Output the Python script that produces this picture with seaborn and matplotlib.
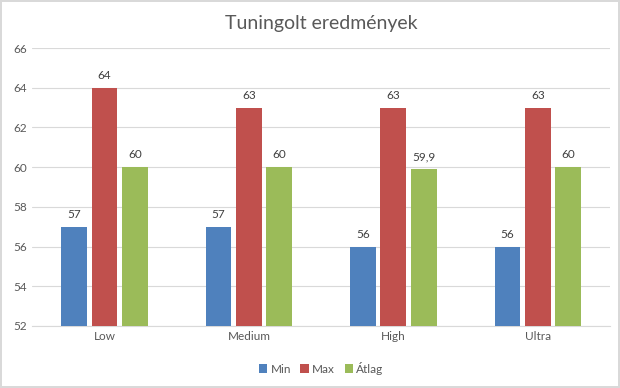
import seaborn as sns
import matplotlib.pyplot as plt
import pandas as pd

categories = ['Low', 'Medium', 'High', 'Ultra']
series = ['Min', 'Max', 'Átlag']
min_values = [57, 57, 56, 56]
max_values = [64, 63, 63, 63]
avg_values = [60, 60, 59.9, 60]
colors = ['#4F81BD', '#C0504D', '#9BBB59']

rows = []
for name, vals in zip(series, [min_values, max_values, avg_values]):
    for cat, v in zip(categories, vals):
        rows.append({'cat': cat, 'series': name, 'value': v})
df = pd.DataFrame(rows)

sns.set_style('white')
plt.rcParams['font.family'] = ['Lato', 'DejaVu Sans']
txt = '#595959'

fig = plt.figure(figsize=(6.2, 3.88), dpi=100)
fig.patch.set_edgecolor('#d9d9d9')
fig.patch.set_linewidth(1.5)
ax = fig.add_axes([0.052, 0.16, 0.932, 0.716])

sns.barplot(data=df, x='cat', y='value', hue='series', palette=colors,
            width=0.63, gap=0.15, ax=ax, saturation=1, legend=True,
            linewidth=0, zorder=3)

ax.set_ylim(52, 66)
ax.set_yticks(range(52, 67, 2))
ax.grid(axis='y', color='#d9d9d9', linewidth=0.8, zorder=0)
ax.set_axisbelow(True)
for s in ['top', 'right', 'left']:
    ax.spines[s].set_visible(False)
ax.spines['bottom'].set_color('#d9d9d9')
ax.tick_params(axis='both', length=0, labelsize=8.5, colors=txt, pad=4)
ax.set_xlabel('')
ax.set_ylabel('')

for cont in ax.containers:
    labels = [('%g' % v).replace('.', ',') for v in cont.datavalues]
    ax.bar_label(cont, labels=labels, padding=5, fontsize=8.5, color='#404040')

ax.set_title('Tuningolt eredmények', fontsize=14, color=txt, pad=14)

handles, labels = ax.get_legend_handles_labels()
ax.legend(handles, labels, loc='upper center', bbox_to_anchor=(0.5, -0.09),
          ncol=3, frameon=False, fontsize=8.5, labelcolor=txt,
          handlelength=0.7, handleheight=0.7, handletextpad=0.3, columnspacing=0.8)

fig.savefig('out.png', dpi=100)
